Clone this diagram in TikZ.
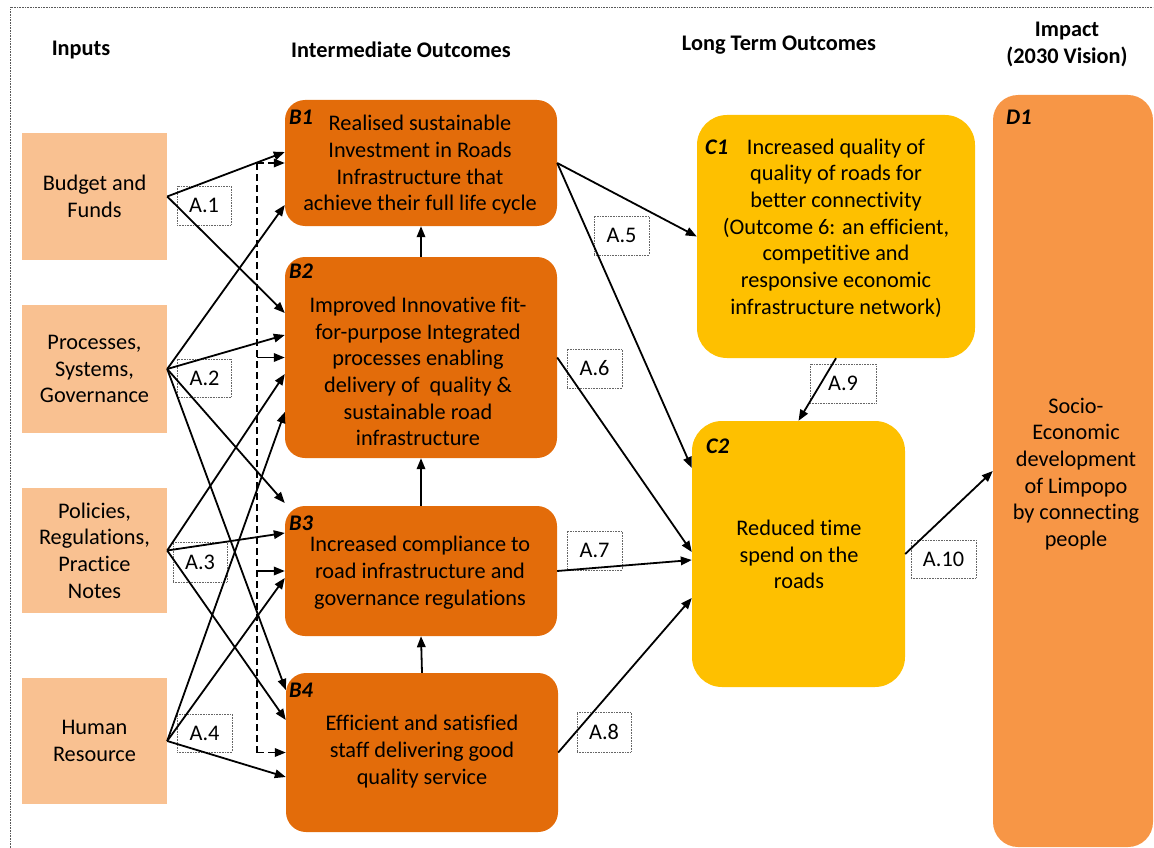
\documentclass[tikz,border=0pt]{standalone}
\usepackage{fontspec}
\setmainfont[Ligatures=NoCommon]{Carlito}
\usetikzlibrary{arrows.meta}
\definecolor{inpc}{HTML}{F9C191}
\definecolor{borc}{HTML}{E36C0A}
\definecolor{cyel}{HTML}{FEC000}
\definecolor{dorc}{HTML}{F79646}
\tikzset{
  inbox/.style={fill=inpc, inner sep=0pt, minimum width=145pt, align=center},
  bbox/.style={fill=borc, rounded corners=20pt, inner sep=0pt, minimum width=272pt},
  cbox/.style={fill=cyel, rounded corners=30pt, inner sep=0pt},
  dbox/.style={fill=dorc, rounded corners=25pt, inner sep=0pt},
  boxtext/.style={align=center, inner sep=0pt},
  tag/.style={font=\fontsize{22.3}{26.7}\selectfont\bfseries\itshape, anchor=west, inner sep=0pt},
  head/.style={font=\fontsize{22.3}{26.7}\selectfont\bfseries, align=center, inner sep=0pt},
  albl/.style={draw=gray!80!black, densely dotted, line width=0.6pt, inner sep=0pt, minimum width=54pt, minimum height=39pt},
  arr/.style={line width=1.8pt, -{Triangle[length=11pt,width=8.5pt]}},
  busline/.style={line width=1.8pt, dash pattern=on 7pt off 4pt},
}
\begin{document}
\begin{tikzpicture}[x=1pt,y=-1pt, font=\fontsize{22.3}{26.7}\selectfont]
\useasboundingbox (0,0) rectangle (1154,848);
\draw[densely dotted, gray!70!black, line width=0.6pt] (10,848) -- (10,7) -- (1153,7);

% headers
\node[head] (h1) at (81,50) {Inputs};
\node[head] (h2) at (401,50) {Intermediate Outcomes};
\node[head] (h3) at (779,45) {Long Term Outcomes};
\node[head] (h4) at (1067,44.5) {Impact\\(2030 Vision)};

% inputs
\node[inbox, minimum height=127pt] (Budget) at (94.5,196.5) {Budget and\\Funds};
\node[inbox, minimum height=128pt] (Processes) at (94.5,369) {Processes,\\Systems,\\Governance};
\node[inbox, minimum height=125pt] (Policies) at (94.5,550.5) {Policies,\\Regulations,\\Practice\\Notes};
\node[inbox, minimum height=126pt] (Human) at (94.5,741) {Human\\Resource};

% intermediate outcomes
\node[bbox, minimum height=126pt] (B1) at (421,163) {};
\node[bbox, minimum height=201pt] (B2) at (421,357.5) {};
\node[bbox, minimum height=130pt] (B3) at (421,571) {};
\node[bbox, minimum height=159pt] (B4) at (422,752.5) {};
\node[boxtext] (B1t) at (420,165) {Realised sustainable\\Investment in Roads\\Infrastructure that\\achieve their full life cycle};
\node[boxtext] (B2t) at (418,371.5) {Improved Innovative fit-\\for-purpose Integrated\\processes enabling\\delivery of\ \ quality \&\\sustainable road\\infrastructure};
\node[boxtext] (B3t) at (420,572.5) {Increased compliance to\\road infrastructure and\\governance regulations};
\node[boxtext] (B4t) at (422,751.5) {Efficient and satisfied\\staff delivering good\\quality service};
\node[tag] (B1l) at (289,117) {B1};
\node[tag] (B2l) at (289,271) {B2};
\node[tag] (B3l) at (289,523) {B3};
\node[tag] (B4l) at (289,690) {B4};

% long term outcomes
\node[cbox, minimum width=278pt, minimum height=243pt] (C1) at (836,236.5) {};
\node[cbox, minimum width=213pt, minimum height=266pt] (C2) at (798.5,554) {};
\node[boxtext] (C1t) at (836,228) {Increased quality of\\quality of roads for\\better connectivity\\(Outcome 6: an efficient,\\competitive and\\responsive economic\\infrastructure network)};
\node[boxtext] (C2t) at (799,554.5) {Reduced time\\spend on the\\roads};
\node[tag] (C1l) at (705,147) {C1};
\node[tag] (C2l) at (706,446) {C2};

% impact
\node[dbox, minimum width=160pt, minimum height=752pt] (D1) at (1073,471) {};
\node[boxtext] (D1t) at (1076,474) {Socio-\\Economic\\development\\of Limpopo\\by connecting\\people};
\node[tag] (D1l) at (1006,117) {D1};

% arrow labels
\node[albl] (A1) at (204,205.5) {A.1};
\node[albl, minimum height=38pt] (A2) at (204.5,378) {A.2};
\node[albl, minimum height=40pt] (A3) at (200,562) {A.3};
\node[albl, minimum width=55pt, minimum height=38pt] (A4) at (204.5,733) {A.4};
\node[albl, minimum width=55pt] (A5) at (621.5,235.5) {A.5};
\node[albl, minimum width=55pt] (A6) at (594.5,368.5) {A.6};
\node[albl, minimum width=55pt] (A7) at (594.5,550.5) {A.7};
\node[albl, minimum height=40pt] (A8) at (604,732) {A.8};
\node[albl, minimum width=66pt] (A9) at (843,383.5) {A.9\hspace{14pt}};
\node[albl, minimum width=65pt, minimum height=38pt] (A10) at (943.5,559) {A.10};

% dashed bus
\coordinate (bus1) at (B1.west -| 257,0);
\coordinate (bus2) at (B2.west -| 257,0);
\coordinate (bus3) at (B3.west -| 257,0);
\coordinate (bus4) at (B4.west -| 257,0);
\draw[busline] (bus1) -- (bus4);
\draw[arr, dash pattern=on 7pt off 4pt] (bus1) -- (B1.west);
\draw[arr] (bus2) -- (B2.west);
\draw[arr] (bus3) -- (B3.west);
\draw[arr, dash pattern=on 7pt off 4pt] (bus4) -- (B4.west);

% inputs to intermediate
\draw[arr] (Budget.east) -- (B1.west |- 0,152);
\draw[arr] (Budget.east) -- (B2.west |- 0,313);
\draw[arr] (Processes.east) -- (B1.west |- 0,205);
\draw[arr] (Processes.east) -- (B2.west |- 0,335);
\draw[arr] (Processes.east) -- (B3.west |- 0,503);
\draw[arr] (Processes.east) -- (B4.west |- 0,690);
\draw[arr] (Policies.east) -- (B2.west |- 0,374);
\draw[arr] (Policies.east) -- (B3.west |- 0,533);
\draw[arr] (Policies.east) -- (B4.west |- 0,720);
\draw[arr] (Human.east) -- (B2.west |- 0,412);
\draw[arr] (Human.east) -- (B3.west |- 0,578);
\draw[arr] (Human.east) -- (B4.west |- 0,777);

% between intermediate
\draw[arr] (B2.north) -- (B1.south);
\draw[arr] (B3.north) -- (B2.south);
\draw[arr] (B4.north) -- (B3.south);

% intermediate to long term
\draw[arr] (B1.east) -- (C1.west);
\draw[arr] (B1.east) -- (C2.west |- 0,468);
\draw[arr] (B2.east) -- (C2.west |- 0,552);
\draw[arr] (B3.east) -- (C2.west |- 0,560);
\draw[arr] (B4.east) -- (C2.west |- 0,598);
\draw[arr] (C1.south) -- (C2.north);
\draw[arr] (C2.east) -- (D1.west);
\end{tikzpicture}
\end{document}
